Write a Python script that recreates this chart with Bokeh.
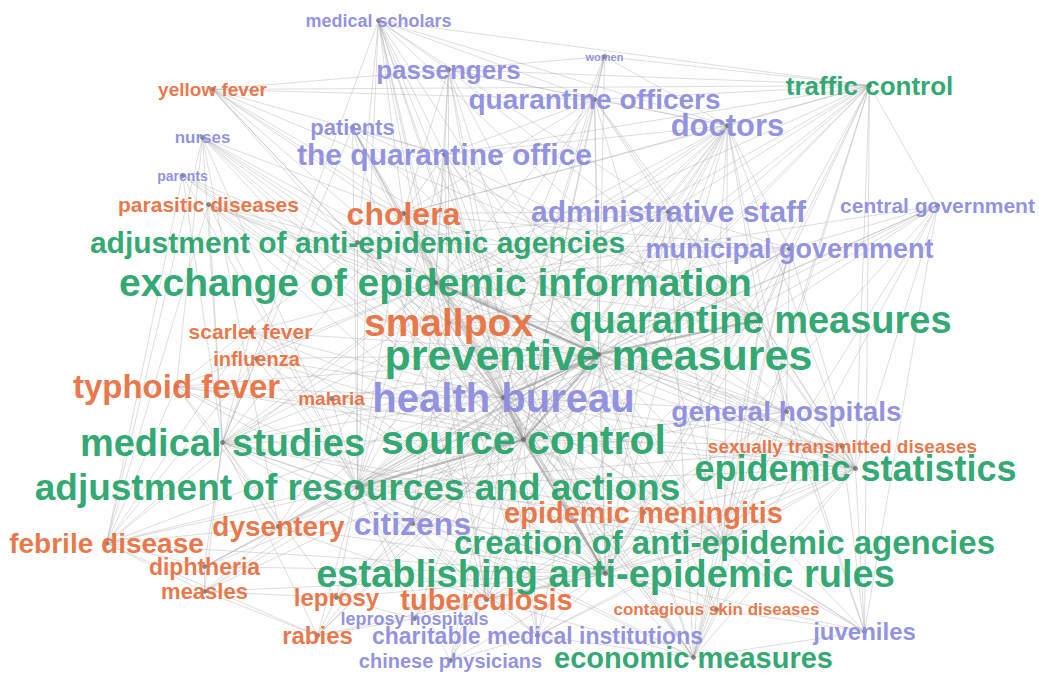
from bokeh.plotting import figure
from bokeh.models import ColumnDataSource, Range1d
from bokeh.core.properties import value
from bokeh.embed import file_html
from bokeh.resources import INLINE

# ---- data ----
labels = [
    "medical scholars", "women", "passengers", "yellow fever", "traffic control",
    "quarantine officers", "doctors", "nurses", "patients", "the quarantine office",
    "parents", "parasitic diseases", "cholera", "administrative staff", "central government",
    "adjustment of anti-epidemic agencies", "municipal government", "exchange of epidemic information",
    "smallpox", "quarantine measures", "scarlet fever", "preventive measures", "influenza",
    "typhoid fever", "malaria", "health bureau", "general hospitals", "medical studies",
    "source control", "sexually transmitted diseases", "epidemic statistics",
    "adjustment of resources and actions", "epidemic meningitis", "dysentery", "citizens",
    "febrile disease", "creation of anti-epidemic agencies", "diphtheria",
    "establishing anti-epidemic rules", "measles", "leprosy", "tuberculosis",
    "contagious skin diseases", "leprosy hospitals", "charitable medical institutions",
    "juveniles", "rabies", "chinese physicians", "economic measures",
]
# category: M = measure, D = disease, A = actor
category = [
    "A", "A", "A", "D", "M", "A", "A", "A", "A", "A",
    "A", "D", "D", "A", "A", "M", "A", "M", "D", "M",
    "D", "M", "D", "D", "D", "A", "A", "M", "M", "D",
    "M", "M", "D", "D", "A", "D", "M", "D", "M", "D",
    "D", "D", "D", "A", "A", "A", "D", "A", "M",
]
# layout coordinates of nodes (network layout)
node_x = [378, 604, 448, 212, 869, 594, 727, 202, 352, 444,
          182, 208, 403, 668, 937, 357, 789, 435, 448, 760,
          250, 598, 256, 176, 331, 503, 786, 222, 523, 842,
          855, 357, 643, 278, 412, 106, 724, 204, 605, 204,
          336, 486, 716, 414, 537, 864, 317, 450, 693]
node_y = [20, 56, 69, 89, 85, 99, 125, 137, 127, 154,
          175, 204, 213, 211, 205, 242, 248, 282, 322, 319,
          331, 354, 358, 386, 398, 397, 411, 442, 439, 446,
          468, 487, 512, 526, 523, 543, 542, 566, 573, 591,
          597, 599, 609, 618, 635, 631, 635, 660, 657]
# node weight shown as label size
node_weight = [18, 11, 26, 19, 26, 28, 31, 17, 22, 30,
               14, 21, 32, 30, 21, 30, 27, 39, 39, 38,
               21, 43, 20, 33, 19, 40, 28, 38, 41, 19,
               36, 37, 29, 28, 32, 28, 33, 23, 38, 22,
               24, 29, 17, 18, 23, 24, 24, 20, 29]

# co-occurrence links (node index -> linked node indices)
links = {
    0: [2, 4, 5, 6, 9, 12, 13, 15, 17, 18, 21, 25, 27, 28, 30, 31, 38, 41],
    1: [2, 4, 5, 6, 21, 25, 28, 34],
    2: [3, 4, 5, 6, 9, 12, 17, 18, 19, 21, 25, 28, 38],
    3: [4, 5, 9, 12, 15, 17, 19, 21, 25, 28, 30],
    4: [5, 6, 9, 12, 13, 14, 16, 17, 18, 19, 21, 25, 28, 30, 31, 36, 38, 45, 48],
    5: [6, 9, 12, 13, 17, 18, 19, 21, 25, 28, 30, 36, 38],
    6: [9, 12, 13, 16, 17, 18, 19, 21, 25, 26, 27, 28, 30, 31, 33, 34, 36, 38, 41, 44, 48],
    7: [12, 15, 17, 18, 21, 23, 25, 27, 28, 31, 33, 35, 38],
    8: [9, 12, 17, 18, 19, 21, 25, 27, 28, 31, 38, 41],
    9: [12, 17, 18, 19, 21, 25, 28, 30, 31, 36, 38],
    10: [18, 21, 25, 27, 28, 31, 35],
    11: [15, 17, 21, 25, 27, 28, 30, 31, 35, 38],
    12: [13, 15, 16, 17, 19, 21, 25, 26, 27, 28, 30, 31, 36, 38, 48],
    13: [15, 16, 17, 18, 19, 21, 25, 28, 30, 31, 36, 38, 48],
    14: [16, 17, 19, 21, 25, 28, 30, 31, 36, 38, 45, 48],
    15: [16, 17, 18, 21, 23, 25, 28, 31, 36, 38],
    16: [17, 18, 19, 21, 25, 26, 28, 30, 31, 36, 38, 48],
    17: [18, 19, 20, 21, 22, 23, 25, 26, 27, 28, 29, 30, 31, 32, 33, 34, 35, 36, 38, 41, 48],
    18: [19, 21, 25, 26, 27, 28, 30, 31, 34, 36, 38, 44, 48],
    19: [21, 25, 26, 28, 29, 30, 31, 34, 36, 38, 41, 45, 48],
    20: [21, 25, 27, 28, 31, 35, 38],
    21: [22, 23, 24, 25, 26, 27, 28, 29, 30, 31, 32, 33, 34, 35, 36, 37, 38, 39, 40,
         41, 42, 43, 44, 45, 46, 47, 48],
    22: [25, 27, 28, 31, 35, 38],
    23: [25, 27, 28, 30, 31, 33, 35, 38],
    24: [25, 27, 28, 31, 38],
    25: [26, 27, 28, 29, 30, 31, 32, 33, 34, 36, 38, 40, 41, 43, 44, 45, 46, 47, 48],
    26: [28, 30, 31, 36, 38, 41, 45, 48],
    27: [28, 31, 32, 33, 34, 35, 36, 37, 38, 39, 40, 41, 46],
    28: [29, 30, 31, 32, 33, 34, 35, 36, 37, 38, 39, 40, 41, 42, 43, 44, 45, 46, 47, 48],
    29: [30, 31, 36, 38, 45],
    30: [31, 32, 36, 38, 41, 42, 44, 45, 48],
    31: [32, 33, 34, 35, 36, 37, 38, 39, 40, 41, 43, 44, 46, 47, 48],
    32: [36, 38, 41, 48],
    33: [35, 37, 38, 39, 41],
    34: [36, 38, 41, 44, 48],
    35: [37, 38, 39, 46],
    36: [38, 41, 42, 44, 45, 48],
    37: [38, 39],
    38: [39, 40, 41, 42, 43, 44, 45, 46, 47, 48],
    39: [40, 46],
    40: [43, 46],
    41: [44, 47, 48],
    42: [45, 48],
    43: [46],
    44: [47, 48],
    45: [48],
}
strong_links = [(21, 25), (21, 28), (25, 28), (28, 38), (17, 21), (28, 31), (21, 19)]

# ---- styling ----
palette = {"M": "#27a46a", "D": "#e8703f", "A": "#8c8ce0"}

p = figure(width=1039, height=673, output_backend="svg", toolbar_location=None,
           x_range=Range1d(0, 1039), y_range=Range1d(673, 0), min_border=0)
p.axis.visible = False
p.grid.visible = False
p.outline_line_color = None
p.background_fill_color = "white"

seen = set()
xs, ys = [], []
for a, nbrs in links.items():
    for b in nbrs:
        key = (min(a, b), max(a, b))
        if key in seen:
            continue
        seen.add(key)
        xs.append([node_x[a], node_x[b]])
        ys.append([node_y[a], node_y[b]])
p.multi_line(xs, ys, line_color="#a0a0a0", line_alpha=0.5, line_width=0.7)

sx = [[node_x[a], node_x[b]] for a, b in strong_links]
sy = [[node_y[a], node_y[b]] for a, b in strong_links]
p.multi_line(sx, sy, line_color="#888888", line_alpha=0.45, line_width=2.5)

src = ColumnDataSource(dict(
    x=node_x, y=node_y, text=labels,
    color=[palette[c] for c in category],
    size=[f"{w}px" for w in node_weight],
))
p.scatter("x", "y", source=src, size=4, color="#666666", alpha=0.7)
p.text("x", "y", text="text", source=src, text_color="color", text_font_size="size",
       text_font=value("Liberation Sans"), text_font_style="bold",
       text_align="center", text_baseline="middle", text_alpha=0.95)

open("out.html", "w").write(file_html(p, INLINE))
